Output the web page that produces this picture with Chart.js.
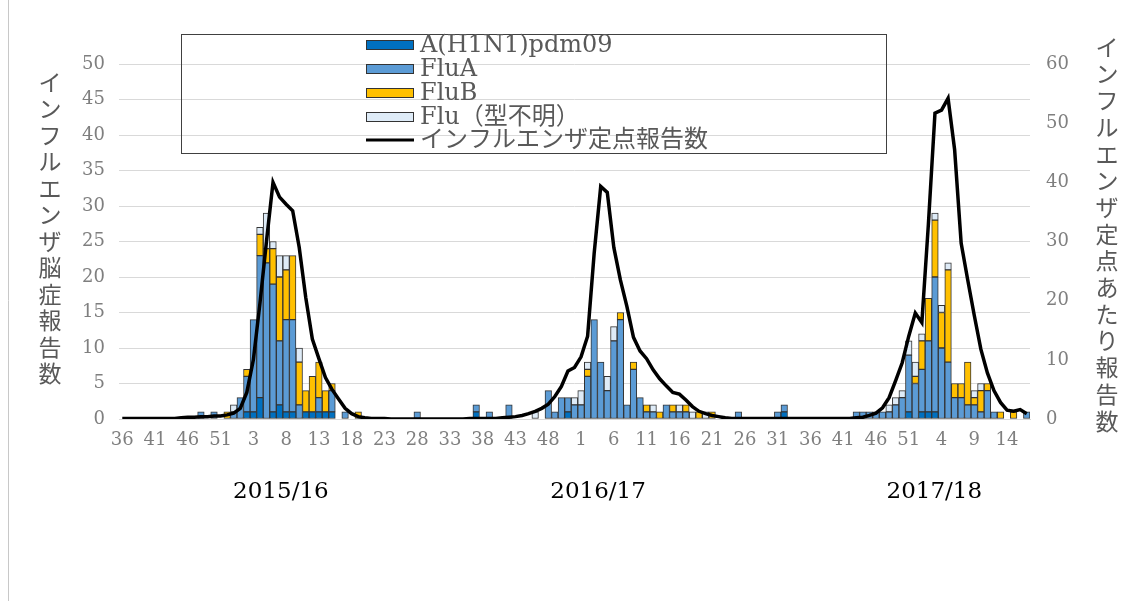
<!DOCTYPE html>
<html><head><meta charset="utf-8">
<script src="https://cdn.jsdelivr.net/npm/chart.js@4/dist/chart.umd.min.js"></script>
<style>
html,body{margin:0;padding:0;background:#fff;}
#wrap{position:relative;width:1134px;height:601px;}
canvas{display:block;}
</style></head><body>
<div id="wrap"><canvas id="c" width="1134" height="601"></canvas></div>
<script>
// ---- categories: surveillance weeks 2015w36 .. 2018w17 ----
const weeks = [
 '36','37','38','39','40','41','42','43','44','45','46','47','48','49','50','51','52','53',
 '1','2','3','4','5','6','7','8','9','10','11','12','13','14','15','16','17','18','19','20','21','22','23','24','25','26','27','28','29','30','31','32','33','34','35','36','37','38','39','40','41','42','43','44','45','46','47','48','49','50','51','52',
 '1','2','3','4','5','6','7','8','9','10','11','12','13','14','15','16','17','18','19','20','21','22','23','24','25','26','27','28','29','30','31','32','33','34','35','36','37','38','39','40','41','42','43','44','45','46','47','48','49','50','51','52',
 '1','2','3','4','5','6','7','8','9','10','11','12','13','14','15','16','17'
];
const seasons = ['2015/16','2016/17','2017/18'];
const seriesNames = ['A(H1N1)pdm09','FluA','FluB','Flu（型不明）','インフルエンザ定点報告数'];
const leftTitle = 'インフルエンザ脳症報告数';
const rightTitle = 'インフルエンザ定点あたり報告数';

// ---- encephalopathy reports (left axis) ----
const h1n1 = [
 0,0,0,0,0,0,0,0,0,0, 0,0,0,0,0,0,0,0,0,1,
 1,3,0,1,2,1,1,0,1,1, 1,1,1,0,0,0,0,0,0,0,
 0,0,0,0,0,0,0,0,0,0, 0,0,0,0,1,0,0,0,0,0,
 0,0,0,0,0,0,0,0,1,0, 0,0,0,0,0,0,0,0,0,0,
 0,0,0,0,0,0,0,0,0,0, 0,0,0,0,0,0,0,0,0,0,
 0,1,0,0,0,0,0,0,0,0, 0,0,0,0,0,0,0,0,0,0,
 1,0,1,1,1,0,0,0,0,0, 0,0,0,0,0,0,0,0,0
];
const fluA = [
 0,0,0,0,0,0,0,0,0,0, 0,0,1,0,1,0,0,1,3,5,
 13,20,22,18,9,13,13,2,0,0, 2,0,3,0,1,0,0,0,0,0,
 0,0,0,0,0,1,0,0,0,0, 0,0,0,0,1,0,1,0,0,2,
 0,0,0,0,0,4,1,3,2,2, 2,6,14,8,4,11,14,2,7,3,
 1,1,0,2,1,1,1,0,0,0, 0,0,0,0,1,0,0,0,0,0,
 1,1,0,0,0,0,0,0,0,0, 0,0,1,1,1,1,1,1,2,3,
 8,5,6,10,19,10,8,3,3,2, 2,1,4,1,0,0,0,0,1
];
const fluB = [
 0,0,0,0,0,0,0,0,0,0, 0,0,0,0,0,0,1,0,0,1,
 0,3,2,5,9,7,9,6,3,5, 5,3,1,0,0,0,1,0,0,0,
 0,0,0,0,0,0,0,0,0,0, 0,0,0,0,0,0,0,0,0,0,
 0,0,0,0,0,0,0,0,0,0, 0,1,0,0,0,0,1,0,1,0,
 1,0,1,0,1,0,1,0,1,0, 1,0,0,0,0,0,0,0,0,0,
 0,0,0,0,0,0,0,0,0,0, 0,0,0,0,0,0,0,0,0,0,
 0,1,4,6,8,5,13,2,2,6, 1,3,1,0,1,0,1,0,0
];
const fluUnknown = [
 0,0,0,0,0,0,0,0,0,0, 0,0,0,0,0,0,0,1,0,0,
 0,1,5,1,3,2,0,2,0,0, 0,0,0,0,0,0,0,0,0,0,
 0,0,0,0,0,0,0,0,0,0, 0,0,0,0,0,0,0,0,0,0,
 0,0,0,1,0,0,0,0,0,1, 2,1,0,0,2,2,0,0,0,0,
 0,1,0,0,0,1,0,1,0,1, 0,0,0,0,0,0,0,0,0,0,
 0,0,0,0,0,0,0,0,0,0, 0,0,0,0,0,0,0,1,1,1,
 2,2,1,0,1,1,1,0,0,0, 1,1,0,0,0,0,0,0,0
];
// ---- sentinel reports per site (right axis) ----
const sentinel = [
 0.1,0.1,0.1,0.1,0.1,0.1,0.1,0.1,0.1,0.2, 0.3,0.3,0.4,0.4,0.5,0.5,0.7,1.0,1.8,4.5,
 10,19.5,30,40,37.5,36.3,35.2,29,20.5,13.5, 10.2,7,5,3.4,1.8,0.9,0.4,0.2,0.1,0.1,
 0.1,0,0,0,0,0,0,0,0,0, 0,0,0,0.1,0.1,0.1,0.1,0.1,0.2,0.3,
 0.4,0.6,0.9,1.3,1.8,2.5,3.8,5.5,8.1,8.7, 10.5,14,28,39.3,38.3,29,23.5,19,13.8,11.5,
 10.2,8.3,6.8,5.6,4.5,4.2,3.2,2.1,1.3,0.9, 0.6,0.4,0.2,0.1,0.1,0.1,0.1,0.1,0.1,0.1,
 0.1,0.1,0.1,0.1,0.1,0.1,0.1,0.1,0.1,0.1, 0.1,0.1,0.2,0.3,0.6,1.0,1.9,3.6,6.5,9.5,
 14,17.9,16.3,33,51.7,52.2,54.2,45.5,29.7,23.5, 17.5,11.8,7.8,4.8,2.8,1.5,1.3,1.6,0.9
];

const nz = a => a.map(v => v === 0 ? null : v);
const GRAY = '#7f7f7f';
const TICKFONT = {family: '"DejaVu Serif", "Liberation Serif", serif', size: 18};

const barStyle = {type:'bar', yAxisID:'y', order:1, borderColor:'#333333', borderWidth:1, borderSkipped:false,
  categoryPercentage:1.0, barPercentage:1.0};

const verticalTitles = {
  id:'verticalTitles',
  afterDraw(chart){
    const ctx = chart.ctx;
    ctx.save();
    ctx.fillStyle = '#595959';
    ctx.font = '23px "Noto Sans CJK JP"';
    ctx.textAlign = 'center'; ctx.textBaseline = 'middle';
    [...leftTitle].forEach((ch,k)=>ctx.fillText(ch, 50, 82 + k*26.5));
    [...rightTitle].forEach((ch,k)=>ctx.fillText(ch, 1107, 47 + k*26.7));
    ctx.restore();
  }
};

const boxLegend = {
  id:'boxLegend',
  afterDraw(chart){
    const ctx = chart.ctx;
    ctx.save();
    ctx.strokeStyle = '#404040'; ctx.lineWidth = 1;
    ctx.strokeRect(181.5, 34.5, 705, 119);
    const rows = [45, 69, 93, 117, 140];
    chart.data.datasets.forEach((d,k)=>{
      const y = rows[k];
      if (d.type === 'line') {
        ctx.strokeStyle = d.borderColor; ctx.lineWidth = 3;
        ctx.beginPath(); ctx.moveTo(366, y); ctx.lineTo(414, y); ctx.stroke();
      } else {
        ctx.fillStyle = d.backgroundColor; ctx.fillRect(366, y-5, 48, 10);
        ctx.strokeStyle = '#333333'; ctx.lineWidth = 1; ctx.strokeRect(366.5, y-4.5, 47, 9);
      }
      ctx.fillStyle = '#595959';
      ctx.font = '24px "DejaVu Serif", "Noto Sans CJK JP"';
      ctx.textAlign = 'left'; ctx.textBaseline = 'middle';
      ctx.fillText(d.label, 420, y+1);
    });
    ctx.restore();
  }
};

const seasonLabels = {
  id:'seasonLabels',
  afterDraw(chart){
    const ctx = chart.ctx, xs = chart.scales.x;
    const at = [24.2, 72.6, 123.9];
    ctx.save();
    ctx.fillStyle = '#000';
    ctx.font = '23px "DejaVu Serif"';
    ctx.textAlign = 'center'; ctx.textBaseline = 'middle';
    seasons.forEach((s,k)=>ctx.fillText(s, xs.getPixelForValue(at[k]), 492));
    // outer frame line on the left
    ctx.strokeStyle = '#c8c8c8'; ctx.lineWidth = 1;
    ctx.beginPath(); ctx.moveTo(8.5, 0); ctx.lineTo(8.5, 601); ctx.stroke();
    ctx.restore();
  }
};

new Chart(document.getElementById('c'), {
  data: {
    labels: weeks,
    datasets: [
      {...barStyle, label: seriesNames[0], data: nz(h1n1), backgroundColor:'#0070C0'},
      {...barStyle, label: seriesNames[1], data: nz(fluA), backgroundColor:'#5B9BD5'},
      {...barStyle, label: seriesNames[2], data: nz(fluB), backgroundColor:'#FFC000'},
      {...barStyle, label: seriesNames[3], data: nz(fluUnknown), backgroundColor:'#DEEBF7'},
      {type:'line', label: seriesNames[4], data: sentinel, yAxisID:'y2', order:0,
       borderColor:'#000000', borderWidth:3.5, pointRadius:0, tension:0, fill:false}
    ]
  },
  options: {
    responsive:false, animation:false, devicePixelRatio:1,
    layout:{padding:{top:64, left:0, right:0, bottom:0}},
    plugins:{legend:{display:false}, tooltip:{enabled:false}, title:{display:false}},
    scales:{
      x:{stacked:true, offset:true,
         grid:{display:false, drawTicks:false},
         border:{display:true, color:'#d9d9d9', width:1},
         ticks:{autoSkip:false, maxRotation:0, minRotation:0, padding:11, color:GRAY, font:TICKFONT,
                callback:(v,i)=> i % 5 === 0 ? weeks[i] : ''},
         afterFit:s=>{s.height = 182;}},
      y:{position:'left', stacked:true, min:0, max:50,
         grid:{color:'#d9d9d9', lineWidth:1, drawTicks:false},
         border:{display:false},
         ticks:{stepSize:5, padding:14, color:GRAY, font:TICKFONT},
         afterFit:s=>{s.width = 119;}},
      y2:{position:'right', min:0, max:60,
         grid:{drawOnChartArea:false, drawTicks:false},
         border:{display:false},
         ticks:{stepSize:10, padding:16, color:GRAY, font:TICKFONT},
         afterFit:s=>{s.width = 104;}}
    }
  },
  plugins:[verticalTitles, boxLegend, seasonLabels]
});
</script>
</body></html>
